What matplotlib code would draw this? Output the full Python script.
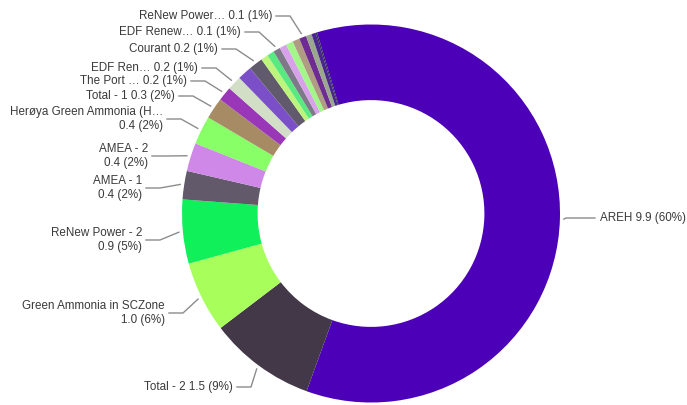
import numpy as np
import matplotlib
matplotlib.use('Agg')
import matplotlib.pyplot as plt

plt.rcParams['font.family'] = ['Liberation Sans', 'DejaVu Sans']

# slices in clockwise order, starting with AREH (None = label hidden)
names = ['AREH', 'Total - 2', 'Green Ammonia in SCZone', 'ReNew Power - 2',
         'AMEA - 1', 'AMEA - 2', 'Herøya Green Ammonia (H…', 'Total - 1',
         'The Port …', 'EDF Ren…', None, 'Courant', None, None,
         'EDF Renew…', None, None, None, 'ReNew Power…', None, None, None]
values = [9.9, 1.5, 1.0, 0.9,
          0.4, 0.4, 0.4, 0.3,
          0.2, 0.2, 0.2, 0.2, 0.1, 0.1,
          0.1, 0.1, 0.1, 0.1, 0.1, 0.08, 0.06, 0.02]
colors = ['#4c00b8', '#433847', '#a8ff5c', '#10f05a',
          '#625a6b', '#d088e8', '#88ff66', '#a68b64',
          '#9a36b8', '#d2dfc6', '#7b4fc8', '#615a6c', '#bdf57c', '#58ea80',
          '#7f7889', '#d8a2ea', '#a3f78a', '#b09c82', '#6e2c92', '#9aa88e', '#4a2590', '#2a2a50']

# label layout in pixels: text x, line y, wrapped onto two lines
label_pos = {
    'AREH': (600, 218, False),
    'Total - 2': (233, 387, False),
    'Green Ammonia in SCZone': (165, 313, True),
    'ReNew Power - 2': (142, 240, True),
    'AMEA - 1': (142, 188, True),
    'AMEA - 2': (148, 156, True),
    'Herøya Green Ammonia (H…': (163, 119, True),
    'Total - 1': (175, 96, False),
    'The Port …': (187, 81, False),
    'EDF Ren…': (198, 68, False),
    'Courant': (218, 49, False),
    'EDF Renew…': (241, 32, False),
    'ReNew Power…': (272, 16, False),
}

W, H = 687, 405
cx, cy, R = 371, H - 213.5, 189

fig = plt.figure(figsize=(W / 100, H / 100), dpi=100)
ax = fig.add_axes([0, 0, 1, 1])
wedges, _ = ax.pie(values, colors=colors, startangle=106.6, counterclock=False,
                   center=(cx, cy), radius=R, frame=True,
                   wedgeprops=dict(width=R * 0.4, linewidth=0))
ax.set_xlim(0, W)
ax.set_ylim(0, H)
ax.set_aspect('equal')
ax.axis('off')

total = sum(values)
for w, name, v in zip(wedges, names, values):
    if name is None:
        continue
    tx, ty, wrap = label_pos[name]
    ty = H - ty
    pct = round(v / total * 100)
    sep = '\n' if wrap else ' '
    text = f'{name}{sep}{v:.1f} ({pct}%)'
    mid = np.deg2rad((w.theta1 + w.theta2) / 2)
    p0 = (cx + (R + 4) * np.cos(mid), cy + (R + 4) * np.sin(mid))
    right = tx > cx
    s = -1 if right else 1
    p2 = (tx + s * 4, ty)
    p1 = (tx + s * 18, ty)
    if right:
        p1 = (p0[0] + 2, ty)
        p2 = (tx - 5, ty)
    ax.plot([p0[0], p1[0], p2[0]], [p0[1], p1[1], p2[1]], color='#8c8c8c', lw=1)
    ax.text(tx, ty, text, ha='left' if right else 'right', va='center',
            multialignment='left' if right else 'right',
            fontsize=8.4, color='#3a3a3a', linespacing=1.2)

fig.savefig('out.png', dpi=100)
